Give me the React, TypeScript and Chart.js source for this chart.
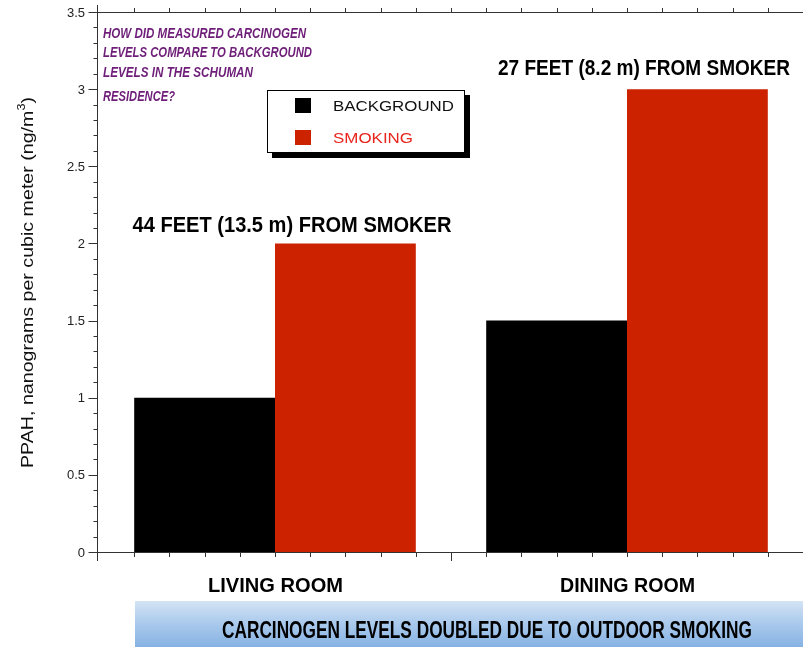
import React, { useEffect, useRef } from "react";
import { Chart, registerables } from "chart.js";

Chart.register(...registerables);

const categories = ["LIVING ROOM", "DINING ROOM"];
const backgroundValues = [1.0, 1.5];
const smokingValues = [2.0, 3.0];
const seriesNames = ["BACKGROUND", "SMOKING"];
const yTickValues = [0, 0.5, 1, 1.5, 2, 2.5, 3, 3.5];
const yTickLabels = ["0", "0.5", "1", "1.5", "2", "2.5", "3", "3.5"];
const distanceNotes = ["44 FEET (13.5 m) FROM SMOKER", "27 FEET (8.2 m) FROM SMOKER"];
const questionLines = [
  "HOW DID MEASURED CARCINOGEN",
  "LEVELS COMPARE TO BACKGROUND",
  "LEVELS IN THE SCHUMAN",
  "RESIDENCE?",
];
const bannerText = "CARCINOGEN LEVELS DOUBLED DUE TO OUTDOOR SMOKING";
const yTitleMain = "PPAH, nanograms per cubic meter (ng/m";
const yTitleSup = "3";
const yTitleEnd = ")";

const BLACK = "#000000";
const RED = "#cc2200";
const PURPLE = "#6e1e78";
const AXIS = "#333333";

function fitText(ctx: CanvasRenderingContext2D, text: string, left: number, baseline: number, font: string, width: number, color: string) {
  ctx.save();
  ctx.font = font;
  ctx.fillStyle = color;
  ctx.textAlign = "left";
  ctx.textBaseline = "alphabetic";
  const w = ctx.measureText(text).width;
  const sx = width / w;
  ctx.translate(left, baseline);
  ctx.scale(sx, 1);
  ctx.fillText(text, 0, 0);
  ctx.restore();
}

const decorPlugin = {
  id: "decor",
  afterDraw(chart: any) {
    const ctx: CanvasRenderingContext2D = chart.ctx;
    const area = chart.chartArea;
    const xs = chart.scales.x;
    const ys = chart.scales.y;
    const left = area.left;
    const right = area.right;
    const top = area.top;
    const bottom = area.bottom;
    const axX = left - 1.5;

    ctx.save();
    ctx.strokeStyle = AXIS;
    ctx.lineWidth = 1;
    ctx.beginPath();
    ctx.moveTo(axX, 5);
    ctx.lineTo(axX, bottom + 9);
    ctx.moveTo(left - 10, bottom + 0.5);
    ctx.lineTo(right, bottom + 0.5);
    ctx.moveTo(axX, top + 0.5);
    ctx.lineTo(right, top + 0.5);
    ctx.stroke();

    ctx.beginPath();
    for (let i = 0; i <= 35; i++) {
      const v = i / 10;
      const py = Math.round(ys.getPixelForValue(v)) + 0.5;
      const len = i % 5 === 0 ? 9 : 4;
      ctx.moveTo(axX - len, py);
      ctx.lineTo(axX, py);
    }
    const catW = (right - left) / categories.length;
    for (let k = 1; k < categories.length * 10; k++) {
      const px = Math.round(left + (k * catW) / 10) + 0.5;
      const major = k % 10 === 0;
      ctx.moveTo(px, bottom);
      ctx.lineTo(px, bottom + (major ? 9 : 5));
      ctx.moveTo(px, top);
      ctx.lineTo(px, top - 4);
    }
    ctx.stroke();

    ctx.fillStyle = "#222222";
    ctx.font = "13px 'Liberation Sans', Arial, sans-serif";
    ctx.textAlign = "right";
    ctx.textBaseline = "middle";
    yTickValues.forEach((v, i) => {
      ctx.fillText(yTickLabels[i], left - 14, ys.getPixelForValue(v) + 1);
    });

    categories.forEach((c, i) => {
      const cx = xs.getPixelForValue(i);
      fitText(ctx, c, cx - 67, 592, "bold 21px 'Liberation Sans', Arial, sans-serif", 135, "#000000");
    });

    const noteWidths = [319, 292];
    distanceNotes.forEach((t, i) => {
      const cx = xs.getPixelForValue(i) + 17;
      const py = ys.getPixelForValue(smokingValues[i]);
      fitText(ctx, t, cx - noteWidths[i] / 2, py - 11 - (i === 1 ? 3 : 0), "bold 22px 'Liberation Sans', Arial, sans-serif", noteWidths[i], "#000000");
    });

    const qBase = [38, 57, 77, 101];
    const qW = [203, 209, 150, 72];
    questionLines.forEach((t, i) => {
      fitText(ctx, t, 103, qBase[i], "italic bold 14px 'Liberation Sans', Arial, sans-serif", qW[i], PURPLE);
    });

    ctx.fillStyle = "#000000";
    ctx.fillRect(272, 95, 198, 63);
    ctx.fillStyle = "#ffffff";
    ctx.fillRect(267, 90, 198, 63);
    ctx.strokeStyle = "#000000";
    ctx.lineWidth = 1;
    ctx.strokeRect(267.5, 90.5, 197, 62);
    ctx.fillStyle = BLACK;
    ctx.fillRect(295, 98, 16, 15);
    ctx.fillStyle = RED;
    ctx.fillRect(295, 130, 16, 15);
    fitText(ctx, seriesNames[0], 333, 111, "15px 'Liberation Sans', Arial, sans-serif", 121, "#111111");
    fitText(ctx, seriesNames[1], 333, 143, "15px 'Liberation Sans', Arial, sans-serif", 80, "#e8251c");

    const g = ctx.createLinearGradient(0, 601, 0, 647);
    g.addColorStop(0, "#d3e3f4");
    g.addColorStop(0.5, "#a9c9ec");
    g.addColorStop(1, "#86b2e3");
    ctx.fillStyle = g;
    ctx.fillRect(135, 601, 803 - 135, 46);
    fitText(ctx, bannerText, 222, 638, "bold 23px 'Liberation Sans', Arial, sans-serif", 530, "#000000");

    ctx.save();
    ctx.translate(33, 468);
    ctx.rotate(-Math.PI / 2);
    ctx.fillStyle = "#111111";
    ctx.textAlign = "left";
    ctx.textBaseline = "alphabetic";
    const mainFont = "17px 'Liberation Sans', Arial, sans-serif";
    const supFont = "11px 'Liberation Sans', Arial, sans-serif";
    ctx.font = mainFont;
    const w1 = ctx.measureText(yTitleMain).width;
    const w3 = ctx.measureText(yTitleEnd).width;
    ctx.font = supFont;
    const w2 = ctx.measureText(yTitleSup).width;
    const total = w1 + w2 + w3;
    const sx = 371 / total;
    ctx.scale(sx, 1);
    ctx.font = mainFont;
    ctx.fillText(yTitleMain, 0, 0);
    ctx.font = supFont;
    ctx.fillText(yTitleSup, w1, -8);
    ctx.font = mainFont;
    ctx.fillText(yTitleEnd, w1 + w2, 0);
    ctx.restore();

    ctx.restore();
  },
};

export default function App() {
  const ref = useRef<HTMLCanvasElement | null>(null);
  useEffect(() => {
    const prevMargin = document.body.style.margin;
    document.body.style.margin = "0";
    if (!ref.current) return;
    const chart = new Chart(ref.current, {
      type: "bar",
      data: {
        labels: categories,
        datasets: [
          { label: seriesNames[0], data: backgroundValues, backgroundColor: BLACK, borderWidth: 0 },
          { label: seriesNames[1], data: smokingValues, backgroundColor: RED, borderWidth: 0 },
        ],
      },
      options: {
        responsive: false,
        animation: false,
        devicePixelRatio: 1,
        layout: { padding: { left: 99, right: 0, top: 12, bottom: 95 } },
        datasets: { bar: { barPercentage: 1, categoryPercentage: 0.8 } },
        scales: {
          x: { display: false, offset: true },
          y: { display: false, min: 0, max: 3.5 },
        },
        plugins: { legend: { display: false }, tooltip: { enabled: false } },
      } as any,
      plugins: [decorPlugin],
    });
    return () => {
      chart.destroy();
      document.body.style.margin = prevMargin;
    };
  }, []);
  return (
    <div style={{ position: "absolute", left: 0, top: 0, width: 803, height: 647, background: "#ffffff" }}>
      <canvas ref={ref} width={803} height={647} style={{ display: "block", width: 803, height: 647 }} />
    </div>
  );
}
